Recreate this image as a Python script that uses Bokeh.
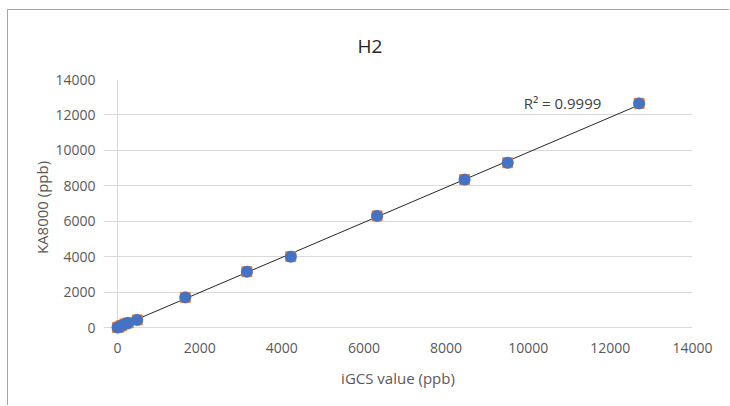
import numpy as np
from bokeh.plotting import figure
from bokeh.models import FixedTicker, Label, Range1d, Span
from bokeh.embed import file_html
from bokeh.resources import INLINE

# data
igcs = [0, 40, 100, 180, 260, 480, 1650, 3150, 4220, 6320, 8450, 9500, 12700]
ka8000 = [0, 30, 110, 200, 260, 430, 1700, 3150, 4000, 6300, 8350, 9300, 12650]
x_ticks = [0, 2000, 4000, 6000, 8000, 10000, 12000, 14000]
y_ticks = [0, 2000, 4000, 6000, 8000, 10000, 12000, 14000]
title_text = "H2"
x_label = "iGCS value (ppb)"
y_label = "KA8000 (ppb)"
r2_text = "R² = 0.9999"

FONT = "Open Sans"

# layout (pixels)
PAD_X, PAD_Y = 14, 8          # extra frame room so markers at 0 are not clipped
X_PX, Y_PX = 575, 248         # size of the 0..14000 data area
x_pad = PAD_X * 14000 / X_PX
y_pad = PAD_Y * 14000 / Y_PX

p = figure(width=722, height=396, output_backend="svg", toolbar_location=None,
           x_range=Range1d(-x_pad, 14000), y_range=Range1d(-y_pad, 14000),
           min_border_left=95, min_border_right=38, min_border_top=69, min_border_bottom=71)
p.frame_width = X_PX + PAD_X
p.frame_height = Y_PX + PAD_Y
p.styles = {"margin-left": "8px", "margin-top": "10px",
            "box-shadow": "-1px -1px 0 0 #a6a6a6"}

p.title.text = title_text
p.title.text_font = FONT
p.title.text_font_size = "19px"
p.title.text_font_style = "normal"
p.title.text_color = "#262626"
p.title.align = "left"
p.title.offset = 254
p.title.standoff = 41

p.outline_line_color = None
p.background_fill_color = "white"
p.border_fill_color = "white"

for ax in (p.xaxis[0], p.yaxis[0]):
    ax.major_tick_line_color = None
    ax.minor_tick_line_color = None
    ax.axis_line_color = None
    ax.major_label_text_font = FONT
    ax.major_label_text_font_size = "14px"
    ax.major_label_text_color = "#595959"
    ax.axis_label_text_font = FONT
    ax.axis_label_text_font_size = "15px"
    ax.axis_label_text_font_style = "normal"
    ax.axis_label_text_color = "#595959"

p.xaxis[0].ticker = FixedTicker(ticks=x_ticks)
p.yaxis[0].ticker = FixedTicker(ticks=y_ticks)
p.xaxis[0].axis_label = x_label
p.yaxis[0].axis_label = y_label
p.xaxis[0].major_label_standoff = 1
p.yaxis[0].major_label_standoff = 2
p.xaxis[0].axis_label_standoff = 12
p.yaxis[0].axis_label_standoff = 0

p.xgrid.grid_line_color = None
p.ygrid.grid_line_color = "#d9d9d9"
p.ygrid.ticker = FixedTicker(ticks=y_ticks)
p.ygrid.bounds = (0, 14000)

# y axis line at x = 0
p.add_layout(Span(location=0, dimension="height", line_color="#d9d9d9", line_width=1,
                  level="underlay"))

# trendline
xa = np.array(igcs, dtype=float)
ya = np.array(ka8000, dtype=float)
m, b = np.polyfit(xa, ya, 1)
xs = [min(igcs), max(igcs)]
p.line(xs, [m * v + b for v in xs], line_color="#262626", line_width=1)

p.scatter(igcs, ka8000, marker="square", size=10, fill_color="#ED7D31", line_color="#ED7D31")
p.scatter(igcs, ka8000, marker="circle", size=11, fill_color="#4472C4", line_color="#4472C4")

p.add_layout(Label(x=11780, y=12660, text=r2_text, text_align="right", text_baseline="middle",
                   text_font=FONT, text_font_size="15px", text_color="#404040"))

open("out.html", "w").write(file_html(p, INLINE))
